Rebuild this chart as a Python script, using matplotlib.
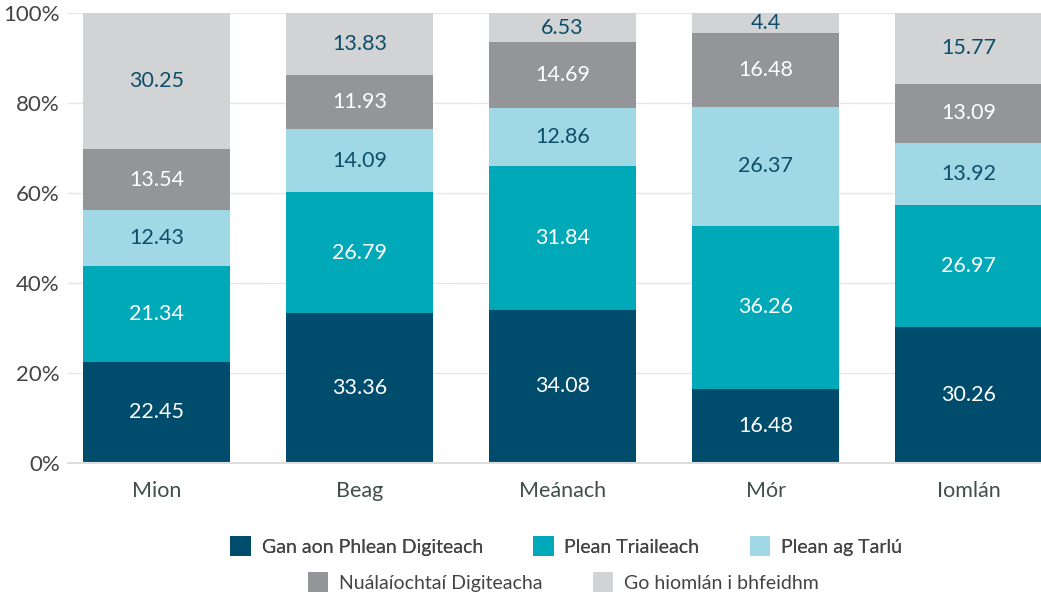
import matplotlib
matplotlib.use("Agg")
import matplotlib.pyplot as plt
from matplotlib.patches import Patch
import numpy as np

plt.rcParams['font.family'] = ['Lato', 'DejaVu Sans']

categories = ["Mion", "Beag", "Meánach", "Mór", "Iomlán"]
series_names = ["Gan aon Phlean Digiteach", "Plean Triaileach", "Plean ag Tarlú",
                "Nuálaíochtaí Digiteacha", "Go hiomlán i bhfeidhm"]
gan_aon = [22.45, 33.36, 34.08, 16.48, 30.26]
triaileach = [21.34, 26.79, 31.84, 36.26, 26.97]
ag_tarlu = [12.43, 14.09, 12.86, 26.37, 13.92]
nualaiochtai = [13.54, 11.93, 14.69, 16.48, 13.09]
go_hiomlan = [30.25, 13.83, 6.53, 4.4, 15.77]
series = [gan_aon, triaileach, ag_tarlu, nualaiochtai, go_hiomlan]

colors = ["#004c6d", "#00a9b7", "#a0d9e5", "#939598", "#d1d3d4"]
label_colors = ["white", "white", "#0d4e6b", "white", "#0d4e6b"]

fig = plt.figure(figsize=(10.41, 5.99), dpi=100)
ax = fig.add_axes([68/1041, 136/599, (1041-68)/1041, 450/599])

x = np.arange(len(categories))
bottom = np.zeros(len(categories))
for vals, c, lc in zip(series, colors, label_colors):
    vals = np.array(vals)
    ax.bar(x, vals, 0.724, bottom=bottom, color=c, zorder=2)
    for xi, b, v in zip(x, bottom, vals):
        ax.text(xi, b + v / 2, f"{v:g}", ha="center", va="center",
                color=lc, fontsize=15.5, zorder=3)
    bottom += vals

ax.set_xlim(-0.436, 4.357)
ax.set_ylim(0, 100)
ax.set_yticks([0, 20, 40, 60, 80, 100])
ax.set_yticklabels([f"{v}%" for v in [0, 20, 40, 60, 80, 100]])
ax.set_xticks(x)
ax.set_xticklabels(categories)
ax.tick_params(axis="y", length=0, pad=6, labelsize=16, labelcolor="#444444")
ax.tick_params(axis="x", length=0, pad=13, labelsize=15.5, labelcolor="#3f5049")
ax.grid(axis="y", color="#e6e6e6", linewidth=1, zorder=0)
for s in ["top", "right", "left"]:
    ax.spines[s].set_visible(False)
ax.spines["bottom"].set_color("#dddddd")
ax.spines["bottom"].set_linewidth(1.5)

handles = [Patch(facecolor=c, edgecolor="none") for c in colors]
leg1 = fig.legend(handles[:3], series_names[:3], ncol=3, loc="center",
                  bbox_to_anchor=(0.544, 1 - 546/599), frameon=False,
                  fontsize=14, handlelength=1.05, handleheight=1.2,
                  columnspacing=2.6, handletextpad=0.55, labelcolor="#444444")
leg2 = fig.legend(handles[3:], series_names[3:], ncol=2, loc="center",
                  bbox_to_anchor=(0.541, 1 - 582/599), frameon=False,
                  fontsize=14, handlelength=1.05, handleheight=1.2,
                  columnspacing=2.6, handletextpad=0.55, labelcolor="#444444")
fig.add_artist(leg1)

fig.savefig("out.png", dpi=100)
